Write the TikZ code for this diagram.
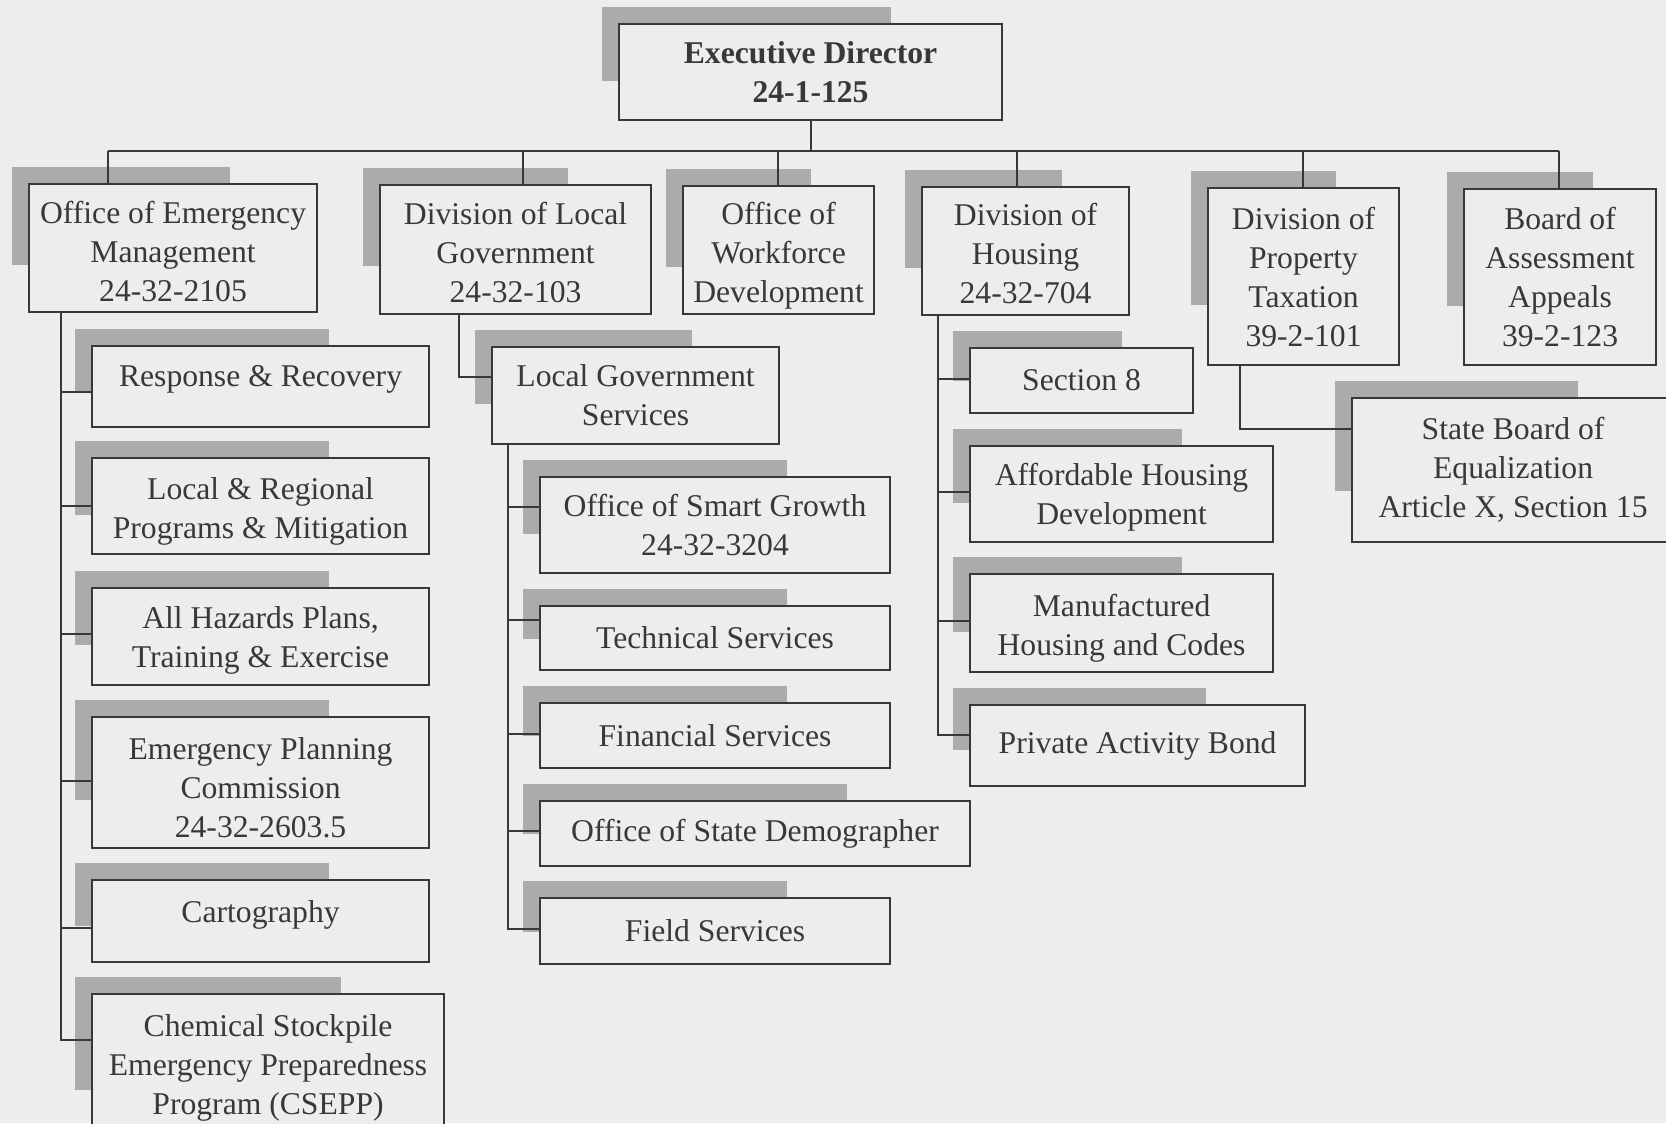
\documentclass[tikz,border=0pt]{standalone}
\usepackage{fontspec}
\setmainfont{Liberation Serif}
\usetikzlibrary{calc}
\pgfdeclarelayer{background}
\pgfsetlayers{background,main}
\definecolor{paper}{HTML}{EDEDED}
\definecolor{ink}{HTML}{383838}
\definecolor{dots}{HTML}{ABABAB}
\tikzset{
    unit/.style={draw=ink, fill=paper, line width=0.6pt, text=ink, align=center, inner sep=0pt, anchor=north west, font=\fontsize{9pt}{11.1pt}\selectfont},
    wh/.style 2 args={minimum width=#1*0.01cm, minimum height=#2*0.01cm},
    link/.style={draw=ink, line width=0.6pt},
    shade/.style={fill=dots},
}
\newcommand\dropshade[1]{\fill[shade] ($(#1.north west)+(-16,-16)$) rectangle ($(#1.north west)!0.75!(#1.south east)+(-16,-16)$);}
\newcommand\tall[1]{\rule{0pt}{#1}}

\begin{document}
\begin{tikzpicture}[x=0.01cm, y=-0.01cm]
        \useasboundingbox (0,0) rectangle (1666,1123);
        \node[unit, wh={383}{96}, font=\bfseries\fontsize{9pt}{11.1pt}\selectfont] (exec) at (618,23) {Executive Director\\24-1-125};
        % top row
        \node[unit, wh={288}{128}] (oem) at (28,183) {\tall{8.4pt}Office of Emergency\\Management\\24-32-2105};
        \node[unit, wh={271}{129}] (dlg) at (379,184) {\tall{7.9pt}Division of Local\\Government\\24-32-103};
        \node[unit, wh={191}{128}, text depth=0pt] (owd) at (682,185) {\tall{7.9pt}Office of\\Workforce\\Development};
        \node[unit, wh={207}{128}] (doh) at (921,186) {\tall{7.9pt}Division of\\Housing\\24-32-704};
        \node[unit, wh={191}{177}] (dpt) at (1207,187) {Division of\\Property\\Taxation\\39-2-101};
        \node[unit, wh={192}{176}] (baa) at (1463,188) {Board of\\Assessment\\Appeals\\39-2-123};
        \node[unit, wh={322}{144}] (sbe) at (1351,397) {State Board of\\Equalization\\Article X, Section 15};
        % emergency management
        \node[unit, wh={337}{81}, text depth=0.21cm] (rr) at (91,345) {Response \& Recovery};
        \node[unit, wh={337}{96}, text depth=0pt] (lrpm) at (91,457) {\tall{7.3pt}Local \& Regional\\Programs \& Mitigation};
        \node[unit, wh={337}{97}, text depth=0pt] (ahp) at (91,587) {All Hazards Plans,\\Training \& Exercise};
        \node[unit, wh={337}{131}] (epc) at (91,716) {\tall{9pt}Emergency Planning\\Commission\\24-32-2603.5};
        \node[unit, wh={337}{82}, text depth=0.19cm] (cart) at (91,879) {Cartography};
        \node[unit, wh={352}{148}] (csepp) at (91,993) {Chemical Stockpile\\Emergency Preparedness\\Program (CSEPP)};
        % local government
        \node[unit, wh={287}{97}] (lgs) at (491,346) {Local Government\\Services};
        \node[unit, wh={350}{96}] (sg) at (539,476) {Office of Smart Growth\\24-32-3204};
        \node[unit, wh={350}{64}] (ts) at (539,605) {Technical Services};
        \node[unit, wh={350}{65}] (fs) at (539,702) {Financial Services};
        \node[unit, wh={430}{65}] (osd) at (539,800) {Office of State Demographer};
        \node[unit, wh={350}{66}] (fds) at (539,897) {Field Services};
        % housing
        \node[unit, wh={223}{65}] (sec8) at (969,347) {Section 8};
        \node[unit, wh={303}{96}, text depth=0pt] (ahd) at (969,445) {Affordable Housing\\Development};
        \node[unit, wh={303}{98}, text depth=0pt] (mhc) at (969,573) {\tall{7.3pt}Manufactured\\Housing and Codes};
        \node[unit, wh={335}{81}] (pab) at (969,704) {Private Activity Bond};

        \begin{pgfonlayer}{background}
            \fill[paper] (0,0) rectangle (1666,1123);
            \foreach \n in {exec,oem,dlg,owd,doh,dpt,baa,sbe,rr,lrpm,ahp,epc,cart,csepp,lgs,sg,ts,fs,osd,fds,sec8,ahd,mhc,pab}
                \dropshade{\n};
        \end{pgfonlayer}

        \foreach \n/\x in {oem/108, dlg/523, owd/778, doh/1017, dpt/1303, baa/1559} {
            \coordinate (\n-tap) at (\x,151);
            \draw[link] (\n-tap) -- (\n-tap |- \n.north);
        }
        \draw[link] (oem-tap) -- (baa-tap);
        \draw[link] (exec.south) -- (exec.south |- oem-tap);

        \coordinate (oem-spine) at (61,0 |- oem.south);
        \coordinate (dlg-spine) at (459,0 |- dlg.south);
        \coordinate (lgs-spine) at (508,0 |- lgs.south);
        \coordinate (doh-spine) at (938,0 |- doh.south);
        \coordinate (dpt-spine) at (1240,0 |- dpt.south);
        \foreach \p/\c/\o in {oem/rr/47, oem/lrpm/49, oem/ahp/47, oem/epc/65, oem/cart/49, oem/csepp/47,
                dlg/lgs/31, lgs/sg/31, lgs/ts/15, lgs/fs/32, lgs/osd/31, lgs/fds/32,
                doh/sec8/32, doh/ahd/47, doh/mhc/48, doh/pab/31, dpt/sbe/32}
            \draw[link] (\p-spine) |- ($(\c.north west)+(0,\o)$);
\end{tikzpicture}
\end{document}
